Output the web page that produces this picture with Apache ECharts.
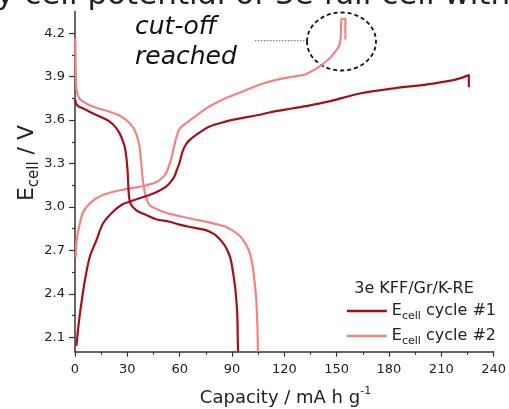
<!DOCTYPE html>
<html>
<head>
<meta charset="utf-8">
<script src="https://cdn.jsdelivr.net/npm/echarts@6/dist/echarts.min.js"></script>
<style>
  html, body { margin: 0; padding: 0; background: #fff; }
  #chart { width: 509px; height: 409px; }
</style>
</head>
<body>
<div id="chart"></div>
<script>
// Galvanostatic cell potential profiles (capacity in mA h g^-1, potential in V)
const cycle1ChargeCap = [0.8, 1.3, 1.9, 2.85, 4.2, 5.7, 8.5, 12.3, 16.1, 21.8, 27.5, 31, 37, 42.7, 48, 52.2, 55, 56.9, 58.5, 59.8, 61.6, 63.5, 65.5, 69.3, 76.8, 86.3, 94, 105.3, 113, 124.3, 134, 145, 164, 183, 202, 217, 222, 225.8, 225.8];
const cycle1ChargeV   = [2.04, 2.10, 2.17, 2.265, 2.38, 2.495, 2.656, 2.77, 2.887, 2.967, 3.02, 3.035, 3.06, 3.082, 3.11, 3.14, 3.175, 3.209, 3.26, 3.30, 3.38, 3.43, 3.46, 3.496, 3.554, 3.589, 3.61, 3.635, 3.657, 3.68, 3.70, 3.727, 3.785, 3.819, 3.847, 3.876, 3.893, 3.911, 3.826];

const cycle1DischargeCap = [0.3, 0.57, 2, 4.7, 8, 12.3, 16, 19.9, 23, 25.6, 27.3, 28.5, 29.3, 29.8, 30.2, 30.4, 31, 32, 33.2, 36, 40.8, 46.5, 54.1, 59.8, 65.5, 75, 80, 82.5, 85.5, 87.3, 89, 90.1, 91.2, 92, 93, 93.3, 93.5];
const cycle1DischargeV   = [3.74, 3.715, 3.695, 3.68, 3.66, 3.635, 3.615, 3.59, 3.555, 3.508, 3.46, 3.416, 3.36, 3.30, 3.24, 3.186, 3.07, 3.02, 3.00, 2.97, 2.944, 2.915, 2.898, 2.878, 2.863, 2.84, 2.81, 2.783, 2.74, 2.702, 2.65, 2.587, 2.5, 2.426, 2.265, 2.1, 2.0];

const cycle2ChargeCap = [0.5, 0.95, 2.85, 4.5, 6.66, 8.5, 12.3, 16.1, 21.8, 28, 35.1, 41, 46.5, 50, 52.2, 55, 56.5, 57.9, 59.5, 61.6, 65.5, 71.1, 76.8, 86.3, 95.8, 105.3, 114.8, 124.3, 131.9, 136, 141.3, 147, 151.8, 152.5, 152.7, 155, 155];
const cycle2ChargeV   = [2.65, 2.77, 2.89, 2.96, 3.00, 3.025, 3.06, 3.082, 3.105, 3.12, 3.135, 3.15, 3.17, 3.20, 3.232, 3.324, 3.40, 3.47, 3.53, 3.56, 3.595, 3.645, 3.692, 3.75, 3.796, 3.842, 3.876, 3.899, 3.915, 3.94, 3.98, 4.04, 4.125, 4.22, 4.30, 4.30, 4.157];

const cycle2DischargeCap = [0.2, 0.4, 0.57, 0.95, 2.5, 4.7, 10.4, 15, 19.9, 25, 29.4, 32, 34.1, 35.8, 37, 38, 38.9, 40.4, 42.7, 46, 50.3, 55, 61.6, 68, 75, 86.3, 90, 93.9, 97, 99.6, 101.3, 102.4, 103.8, 104.5, 104.9];
const cycle2DischargeV   = [4.165, 3.95, 3.876, 3.80, 3.75, 3.727, 3.692, 3.675, 3.657, 3.635, 3.60, 3.57, 3.531, 3.48, 3.416, 3.30, 3.186, 3.082, 3.013, 2.99, 2.967, 2.95, 2.932, 2.915, 2.898, 2.863, 2.84, 2.806, 2.76, 2.702, 2.63, 2.541, 2.38, 2.2, 2.0];

const yMajorTicks = [2.1, 2.4, 2.7, 3.0, 3.3, 3.6, 3.9, 4.2];
const yMinorTicks = [2.25, 2.55, 2.85, 3.15, 3.45, 3.75, 4.05];

const seriesNames = ['cycle #1', 'cycle #2'];
const legendTitle = '3e KFF/Gr/K-RE';

const DARK = '#a3101c';
const LIGHT = '#f48282';
const FONT = 'DejaVu Sans';

function zip(xs, ys) { return xs.map((x, i) => [x, ys[i]]); }

function curve(name, xs, ys, color, width) {
  return {
    name: name,
    type: 'line',
    data: zip(xs, ys),
    symbol: 'none',
    smooth: 0.3,
    lineStyle: { color: color, width: width },
    itemStyle: { color: color },
    emphasis: { disabled: true },
    animation: false,
    z: color === DARK ? 3 : 2
  };
}

const chart = echarts.init(document.getElementById('chart'), null, { renderer: 'canvas' });

chart.setOption({
  backgroundColor: '#ffffff',
  animation: false,
  grid: { left: 75, right: 12.3, top: 11.5, bottom: 57.3, containLabel: false },
  xAxis: {
    type: 'value',
    min: 0, max: 240, interval: 30,
    axisLine: { show: true, lineStyle: { color: '#333', width: 1.5 } },
    axisTick: { show: true, length: 5, inside: false, lineStyle: { color: '#333', width: 1.2 } },
    minorTick: { show: true, splitNumber: 2, length: 3, lineStyle: { color: '#333', width: 1.2 } },
    splitLine: { show: false },
    minorSplitLine: { show: false },
    axisLabel: { fontFamily: FONT, fontSize: 13, color: '#222', margin: 11 }
  },
  yAxis: [
    {
      type: 'value',
      min: 2.0, max: 4.35,
      axisLine: { show: true, lineStyle: { color: '#333', width: 1.5 } },
      axisTick: { show: true, length: 6, customValues: yMajorTicks, lineStyle: { color: '#333', width: 1.2 } },
      axisLabel: { customValues: yMajorTicks, fontFamily: FONT, fontSize: 13, color: '#222', margin: 10,
                   formatter: v => v.toFixed(1) },
      splitLine: { show: false }
    },
    {
      type: 'value',
      min: 2.0, max: 4.35,
      position: 'left',
      axisLine: { show: false },
      axisTick: { show: true, length: 3, customValues: yMinorTicks, lineStyle: { color: '#333', width: 1.2 } },
      axisLabel: { show: false },
      splitLine: { show: false }
    }
  ],
  legend: {
    right: 8,
    top: 298,
    orient: 'vertical',
    icon: 'rect',
    itemWidth: 40,
    itemHeight: 2.4,
    itemGap: 6,
    align: 'left',
    data: seriesNames,
    formatter: name => '{e|E}{s|cell}{t| ' + name + '}',
    textStyle: {
      fontFamily: FONT, fontSize: 16, color: '#222',
      rich: {
        e: { fontFamily: FONT, fontSize: 16, color: '#222', lineHeight: 22 },
        s: { fontFamily: FONT, fontSize: 11, color: '#222', lineHeight: 11, verticalAlign: 'bottom' },
        t: { fontFamily: FONT, fontSize: 16, color: '#222', lineHeight: 22 }
      }
    }
  },
  series: [
    curve(seriesNames[0], cycle1ChargeCap, cycle1ChargeV, DARK, 2.2),
    curve(seriesNames[0], cycle1DischargeCap, cycle1DischargeV, DARK, 2.2),
    curve(seriesNames[1], cycle2ChargeCap, cycle2ChargeV, LIGHT, 2.2),
    curve(seriesNames[1], cycle2DischargeCap, cycle2DischargeV, LIGHT, 2.2)
  ],
  graphic: [
    {
      type: 'text', x: -4, y: 11, silent: true,
      style: { text: 'y cell potential of 3e full cell with K-RE', fontFamily: FONT, fontSize: 31,
               fill: '#222', verticalAlign: 'bottom' }
    },
    {
      type: 'text', x: 135, y: 12, silent: true,
      style: { text: 'cut-off\nreached', fontFamily: FONT, fontStyle: 'italic', fontSize: 25,
               lineHeight: 30, fill: '#111', verticalAlign: 'top' }
    },
    {
      type: 'line', silent: true,
      shape: { x1: 255, y1: 40.7, x2: 307, y2: 40.7 },
      style: { stroke: '#666', lineWidth: 1, lineDash: [1.5, 1.5] }
    },
    {
      type: 'ellipse', silent: true,
      shape: { cx: 341.5, cy: 41.5, rx: 34.5, ry: 29 },
      style: { fill: 'none', stroke: '#111', lineWidth: 1.8, lineDash: [4, 3] }
    },
    {
      type: 'text', x: 414, y: 289, silent: true,
      style: { text: legendTitle, fontFamily: FONT, fontSize: 16, fill: '#222',
               align: 'center', verticalAlign: 'middle' }
    },
    {
      type: 'text', x: 285.5, y: 398, silent: true,
      style: {
        text: '{b|Capacity / mA h g}{p|-1}',
        align: 'center', verticalAlign: 'middle',
        rich: {
          b: { fontFamily: FONT, fontSize: 18, fill: '#222', lineHeight: 24 },
          p: { fontFamily: FONT, fontSize: 11, fill: '#222', lineHeight: 12, verticalAlign: 'top' }
        }
      }
    },
    {
      type: 'text', x: 27, y: 163, rotation: Math.PI / 2, silent: true,
      style: {
        text: '{b|E}{s|cell}{b| / V}',
        align: 'center', verticalAlign: 'middle',
        rich: {
          b: { fontFamily: FONT, fontSize: 22, fill: '#222', lineHeight: 30 },
          s: { fontFamily: FONT, fontSize: 15, fill: '#222', lineHeight: 15, verticalAlign: 'bottom' }
        }
      }
    }
  ]
});
</script>
</body>
</html>
